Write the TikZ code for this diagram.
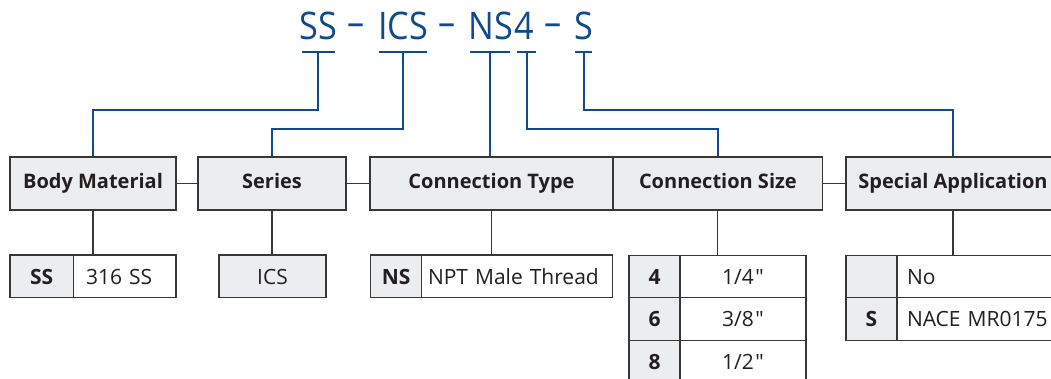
\documentclass[tikz,border=0pt]{standalone}
\usepackage{fontspec}
\setmainfont{Open Sans}[Ligatures=TeXOff]
\newfontfamily\titlefont{Open Sans}[Ligatures=TeXOff, FakeStretch=0.9]
\definecolor{tblue}{RGB}{14,74,140}
\definecolor{boxgray}{RGB}{236,237,239}
\definecolor{bordc}{RGB}{55,55,55}
\definecolor{txt}{RGB}{35,31,32}
\begin{document}
\begin{tikzpicture}[x=1pt,y=-1pt,
 hdr/.style={draw=bordc, line width=1.2pt, fill=boxgray, minimum height=53pt, inner sep=0pt,
   font=\fontsize{20}{24}\selectfont\bfseries, text=txt, text height=14pt, text depth=3pt},
 cell/.style={draw=bordc, line width=1.2pt, minimum height=42.5pt, inner ysep=0pt,
   text=txt, text height=16pt, text depth=0pt},
 code/.style={cell, fill=boxgray, inner xsep=0pt, font=\fontsize{21}{24}\selectfont\bfseries},
 codeR/.style={cell, fill=boxgray, inner xsep=0pt, font=\fontsize{21}{24}\selectfont},
 desc/.style={cell, fill=white, align=left, font=\fontsize{21}{24}\selectfont},
 descC/.style={cell, fill=white, inner xsep=0pt, font=\fontsize{21}{24}\selectfont},
 link/.style={draw=bordc, line width=1.2pt},
 bline/.style={draw=tblue, line width=2pt},
 ubar/.style={fill=tblue, minimum height=2.2pt, inner sep=0pt, draw=none},
 ttl/.style={text=tblue, font=\titlefont\fontsize{38}{40}\selectfont, inner sep=0pt, anchor=base},
]
\useasboundingbox (0,0) rectangle (1051,379);
\clip (0,0) rectangle (1051,379);

% title
\node[ttl] (tSS) at (318.3,40) {SS};
\node[ttl] (d1) at (356.5,40) {\raisebox{4.5pt}{–}};
\node[ttl] (tICS) at (403,40) {ICS};
\node[ttl] (d2) at (447.5,40) {\raisebox{4.5pt}{–}};
\node[ttl] (tNS) at (490.5,40) {NS};
\node[ttl] (t4) at (524,40) {4};
\node[ttl] (d3) at (553.5,40) {\raisebox{4.5pt}{–}};
\node[ttl] (tS) at (583.5,40) {S};

% underlines
\node[ubar, minimum width=33.3pt] (uSS) at (318.3,52) {};
\node[ubar, minimum width=48pt] (uICS) at (403,52) {};
\node[ubar, minimum width=40pt] (uNS) at (490,52) {};
\node[ubar, minimum width=19pt] (u4) at (526.5,52) {};
\node[ubar, minimum width=17pt] (uS) at (583.5,52) {};

% header boxes
\node[hdr, minimum width=166pt] (bm) at (93,183.5) {Body Material};
\node[hdr, minimum width=148pt] (se) at (272,183.5) {Series};
\node[hdr, minimum width=243pt] (ct) at (491.5,183.5) {Connection Type};
\node[hdr, minimum width=209.7pt] (cs) at (717.85,183.5) {Connection Size};
\node[hdr, minimum width=214pt] (sa) at (953,183.5) {Special Application};

\draw[link] (bm.east) -- (se.west);
\draw[link] (se.east) -- (ct.west);
\draw[link] (cs.east) -- (sa.west);

% blue leaders
\coordinate (kSS) at (318.3,110);
\coordinate (kICS) at (403,129);
\coordinate (k4) at (526.5,129);
\coordinate (kS) at (583.5,110);
\draw[bline] (uSS.center) -- (kSS) -| (bm.north);
\draw[bline] (uICS.center) -- (kICS) -| (se.north);
\draw[bline] (uNS.center) -- (uNS.center |- ct.north);
\draw[bline] (u4.center) -- (k4) -| (cs.north);
\draw[bline] (uS.center) -- (kS) -| (sa.north);

% body material options
\node[code, minimum width=63.3pt] (ssC) at (41.65,276.25) {SS};
\node[desc, inner xsep=12.7pt, text width=77.3pt] (ssD) at (124.65,276.25) {316 SS};
\draw[link] (bm.south) -- (bm.south |- ssC.north);

% series
\node[codeR, minimum width=107pt] (ics) at (272.5,276.25) {ICS};
\draw[link] (se.south) -- (se.south |- ics.north);

% connection type
\node[code, minimum width=51pt] (nsC) at (396.2,276.25) {NS};
\node[desc, inner xsep=6.3pt, text width=178.4pt] (nsD) at (517.2,276.25) {NPT Male Thread};
\draw[link] (ct.south) -- (ct.south |- nsC.north);

% connection size
\node[code, minimum width=51pt] (c4) at (654.5,276.35) {4};
\node[descC, minimum width=126pt] (v4) at (743,276.35) {1/4\kern1.5pt"};
\node[code, minimum width=51pt] (c6) at (654.5,318.85) {6};
\node[descC, minimum width=126pt] (v6) at (743,318.85) {3/8\kern1.5pt"};
\node[code, minimum width=51pt] (c8) at (654.5,361.35) {8};
\node[descC, minimum width=126pt] (v8) at (743,361.35) {1/2\kern1.5pt"};
\draw[link] (cs.south) -- (cs.south |- v4.north);

% special application
\node[code, minimum width=51pt] (sN) at (871.5,276.35) {};
\node[desc, inner xsep=10pt, text width=148pt] (sNo) at (981,276.35) {No};
\node[code, minimum width=51pt] (sS) at (871.5,318.85) {S};
\node[desc, inner xsep=10pt, text width=148pt] (sNace) at (981,318.85) {NACE MR0175};
\draw[link] (sa.south) -- (sa.south |- sNo.north);
\end{tikzpicture}
\end{document}
